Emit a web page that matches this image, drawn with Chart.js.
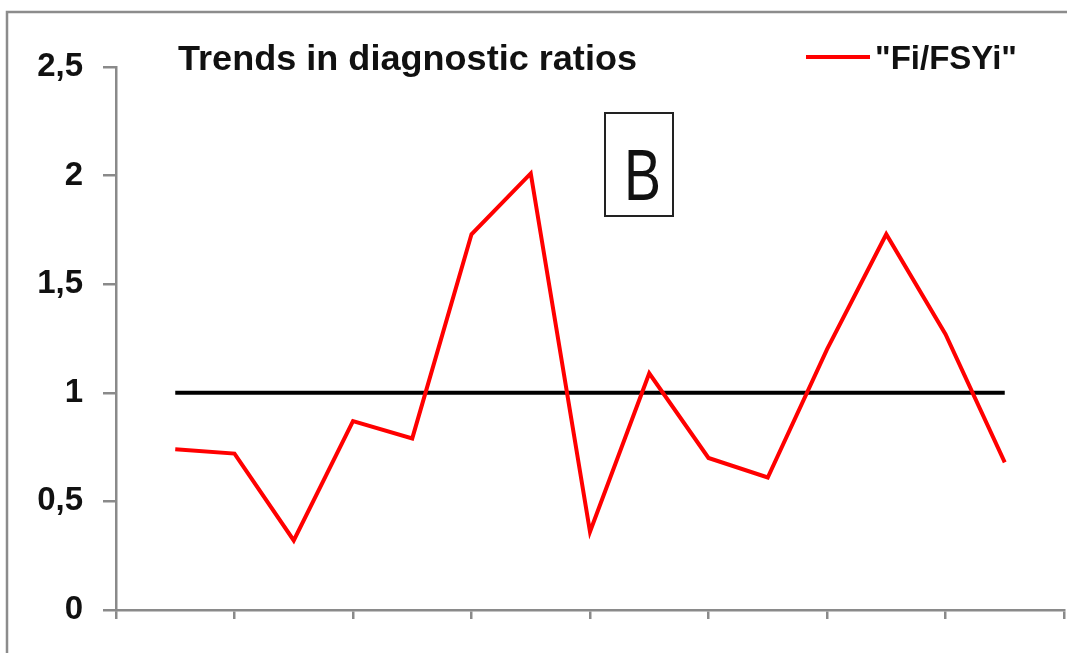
<!DOCTYPE html>
<html>
<head>
<meta charset="utf-8">
<script src="https://cdn.jsdelivr.net/npm/chart.js@4/dist/chart.umd.min.js"></script>
<style>
html,body{margin:0;padding:0;background:#fff;}
#wrap{width:1067px;height:653px;}
</style>
</head>
<body>
<div id="wrap"><canvas id="c" width="1067" height="653"></canvas></div>
<script>
// ---- data ----
const xPositions = [0.5, 1, 1.5, 2, 2.5, 3, 3.5, 4, 4.5, 5, 5.5, 6, 6.5, 7, 7.5];
const ratioValues = [0.74, 0.72, 0.32, 0.87, 0.79, 1.73, 2.01, 0.36, 1.09, 0.70, 0.61, 1.20, 1.73, 1.27, 0.68];
const referenceX = [0.5, 7.5];
const referenceValues = [1, 1];
const yTicks = [0, 0.5, 1, 1.5, 2, 2.5];
const seriesName = '"Fi/FSYi"';
const chartTitle = 'Trends in diagnostic ratios';
const panelLabel = 'B';

const FONT = '"Liberation Sans", Arial, sans-serif';

const decor = {
  id: 'decor',
  beforeDraw(chart) {
    const ctx = chart.ctx;
    ctx.save();
    ctx.fillStyle = '#fff';
    ctx.fillRect(0, 0, chart.width, chart.height);
    // outer frame
    ctx.strokeStyle = '#8c8c8c';
    ctx.lineWidth = 2.5;
    ctx.beginPath();
    ctx.moveTo(7, 653);
    ctx.lineTo(7, 12);
    ctx.lineTo(1067, 12);
    ctx.stroke();
    ctx.restore();
  },
  afterDraw(chart) {
    const ctx = chart.ctx;
    ctx.save();
    // title
    ctx.fillStyle = '#111';
    ctx.font = 'bold 35px ' + FONT;
    ctx.textBaseline = 'alphabetic';
    ctx.textAlign = 'left';
    const tw = ctx.measureText(chartTitle).width;
    ctx.save();
    ctx.translate(178, 70);
    ctx.scale(459 / tw, 1);
    ctx.fillText(chartTitle, 0, 0);
    ctx.restore();
    // legend
    ctx.strokeStyle = '#ff0000';
    ctx.lineWidth = 4;
    ctx.beginPath();
    ctx.moveTo(806, 57);
    ctx.lineTo(870, 57);
    ctx.stroke();
    ctx.font = 'bold 33px ' + FONT;
    const lw = ctx.measureText(seriesName).width;
    ctx.save();
    ctx.translate(875, 69);
    ctx.scale(142 / lw, 1);
    ctx.fillText(seriesName, 0, 0);
    ctx.restore();
    // panel label box
    ctx.strokeStyle = '#222';
    ctx.lineWidth = 2;
    ctx.strokeRect(605, 113, 68, 103);
    ctx.font = '72px ' + FONT;
    ctx.fillStyle = '#111';
    const bw = ctx.measureText(panelLabel).width;
    ctx.save();
    ctx.translate(624, 200);
    ctx.scale(37 / bw, 1);
    ctx.fillText(panelLabel, 0, 0);
    ctx.restore();
    ctx.restore();
  }
};

const ratioData = xPositions.map((x, i) => ({x: x, y: ratioValues[i]}));
const refData = referenceX.map((x, i) => ({x: x, y: referenceValues[i]}));

new Chart(document.getElementById('c'), {
  type: 'line',
  data: {
    datasets: [
      {
        label: seriesName,
        data: ratioData,
        borderColor: '#ff0000',
        borderWidth: 4,
        pointRadius: 0,
        tension: 0,
        fill: false
      },
      {
        label: 'reference',
        data: refData,
        borderColor: '#000000',
        borderWidth: 4,
        pointRadius: 0,
        tension: 0,
        fill: false
      }
    ]
  },
  options: {
    responsive: false,
    animation: false,
    devicePixelRatio: 1,
    layout: { padding: { left: 0, right: 2, top: 67, bottom: 0 } },
    plugins: {
      legend: { display: false },
      title: { display: false },
      tooltip: { enabled: false }
    },
    scales: {
      x: {
        type: 'linear',
        min: 0,
        max: 8,
        afterFit(scale) { scale.height = 43; },
        border: { display: true, color: '#8a8a8a', width: 2.5 },
        grid: { drawOnChartArea: false, drawTicks: true, tickLength: 9, color: '#8a8a8a', lineWidth: 2.5 },
        ticks: { stepSize: 1, callback: () => '', font: { size: 1 } }
      },
      y: {
        min: 0,
        max: 2.5,
        afterFit(scale) { scale.width = 116; },
        afterBuildTicks(scale) { scale.ticks = yTicks.map(v => ({value: v})); },
        border: { display: true, color: '#8a8a8a', width: 2.5 },
        grid: { drawOnChartArea: false, drawTicks: true, tickLength: 13, color: '#8a8a8a', lineWidth: 2.5 },
        ticks: {
          padding: 20,
          color: '#111',
          font: { family: FONT, size: 33, weight: 'bold' },
          callback: v => String(v).replace('.', ',')
        }
      }
    }
  },
  plugins: [decor]
});
</script>
</body>
</html>
